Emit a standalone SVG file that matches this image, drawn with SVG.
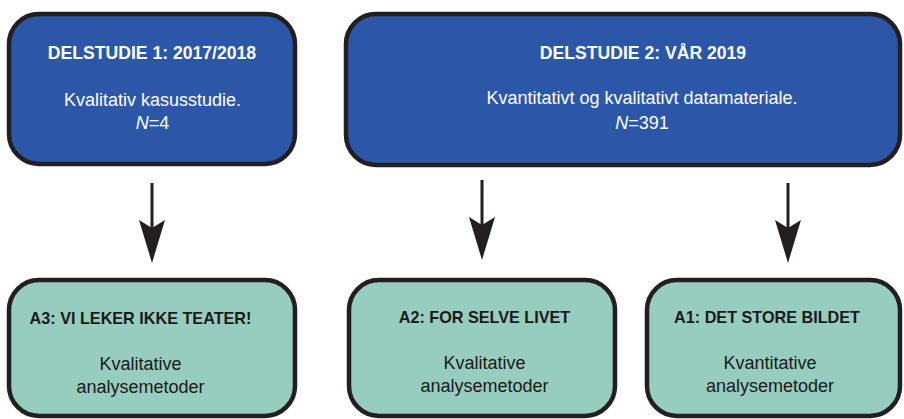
<svg xmlns="http://www.w3.org/2000/svg" width="904" height="419" viewBox="0 0 904 419">
<style>
.blue{fill:#2C57A8;stroke:#231F20;stroke-width:4.5}
.teal{fill:#97CDBE;stroke:#231F20;stroke-width:4.5}
.t{font-family:"Liberation Sans",Arial,sans-serif;text-anchor:middle}
.wt{fill:#ffffff;font-weight:bold;font-size:17.6px}
.wb{fill:#ffffff;font-size:18px}
.kt{fill:#1a1a1a;font-weight:bold;font-size:16.2px}
.kb{fill:#1a1a1a;font-size:18px}
.shaft{stroke:#231F20;stroke-width:3;fill:none}
.head{fill:#231F20}
</style>
<rect width="904" height="419" fill="#ffffff"/>
<g id="delstudie1">
<rect class="blue" x="9" y="14" width="286" height="150" rx="30"/>
<text class="t wt" x="152" y="59">DELSTUDIE 1: 2017/2018</text>
<text class="t wb" x="152.5" y="106">Kvalitativ kasusstudie.</text>
<text class="t wb" x="152.5" y="128.5"><tspan font-style="italic">N</tspan>=4</text>
</g>
<g id="delstudie2">
<rect class="blue" x="346" y="14" width="554" height="151" rx="30"/>
<text class="t wt" x="643" y="58.5">DELSTUDIE 2: VÅR 2019</text>
<text class="t wb" x="642" y="104">Kvantitativt og kvalitativt datamateriale.</text>
<text class="t wb" x="642" y="129"><tspan font-style="italic">N</tspan>=391</text>
</g>
<g id="a3">
<rect class="teal" x="9" y="280" width="286" height="136" rx="30"/>
<text class="t kt" x="140.5" y="324">A3: VI LEKER IKKE TEATER!</text>
<text class="t kb" x="140.5" y="370">Kvalitative</text>
<text class="t kb" x="140.5" y="393">analysemetoder</text>
</g>
<g id="a2">
<rect class="teal" x="349" y="280" width="266" height="136" rx="30"/>
<text class="t kt" x="484.5" y="323">A2: FOR SELVE LIVET</text>
<text class="t kb" x="484.5" y="369">Kvalitative</text>
<text class="t kb" x="484.5" y="392">analysemetoder</text>
</g>
<g id="a1">
<rect class="teal" x="647" y="280" width="253" height="136" rx="30"/>
<text class="t kt" x="767" y="323">A1: DET STORE BILDET</text>
<text class="t kb" x="770" y="369">Kvantitative</text>
<text class="t kb" x="770" y="392">analysemetoder</text>
</g>
<g id="connectors">
<line class="shaft" x1="152" y1="183" x2="152" y2="228"/>
<path class="head" d="M139,220 L152,228 L165,220 L152,263 Z"/>
<line class="shaft" x1="482" y1="180" x2="482" y2="225"/>
<path class="head" d="M469,217 L482,225 L495,217 L482,260 Z"/>
<line class="shaft" x1="788" y1="183" x2="788" y2="228"/>
<path class="head" d="M775,220 L788,228 L801,220 L788,263 Z"/>
</g>
</svg>
